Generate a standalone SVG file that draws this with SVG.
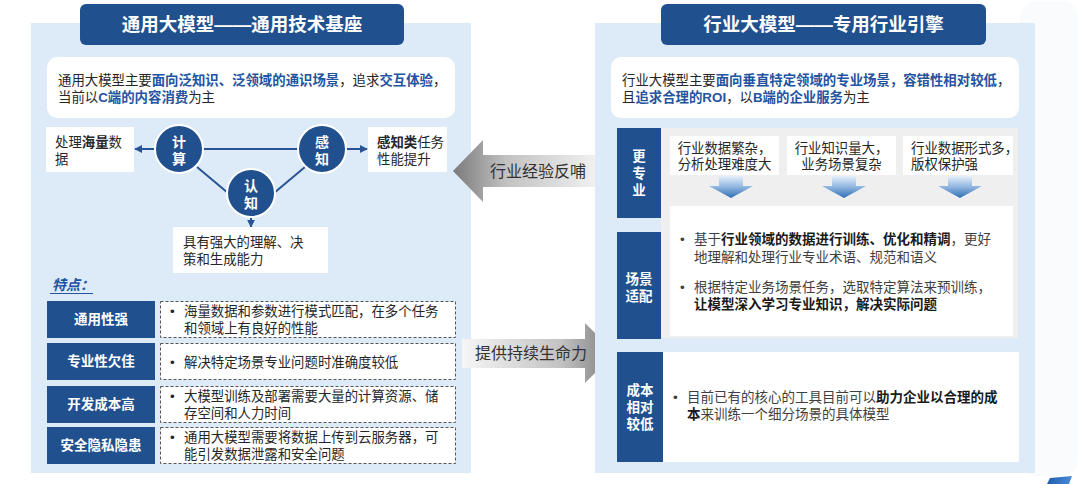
<svg xmlns="http://www.w3.org/2000/svg" width="1080" height="484" viewBox="0 0 1080 484">
<style>
text{font-family:"Liberation Sans","Noto Sans CJK SC",sans-serif;}
.t{font-size:13.4px;fill:#262626;}
.g{font-size:13.5px;fill:#3f3f3f;}
.b{font-weight:bold;}
.hb{font-weight:bold;fill:#2453a0;}
.title{font-size:18.5px;font-weight:bold;fill:#fff;text-anchor:middle;}
.lab{font-size:13.5px;font-weight:bold;fill:#fff;text-anchor:middle;}
.cir{font-size:14px;font-weight:bold;fill:#fff;text-anchor:middle;}
.panel{fill:#ddebf8;}
.navy{fill:#21508f;}
.wbox{fill:#fff;}
.dash{fill:#fff;stroke:#555;stroke-width:1;stroke-dasharray:3 2;}
.conn{stroke:#2a5394;stroke-width:2;fill:none;}
.arr{font-size:16px;fill:#333;text-anchor:middle;}
</style>
<defs>
<marker id="ah" viewBox="0 0 10 10" refX="9" refY="5" markerWidth="4" markerHeight="4" orient="auto" markerUnits="strokeWidth">
<path d="M0,0 L10,5 L0,10 z" fill="#2a5394"/>
</marker>
<linearGradient id="gl" x1="0" y1="0" x2="1" y2="0">
<stop offset="0" stop-color="#7a7a7a"/>
<stop offset="0.35" stop-color="#c2c2c2"/>
<stop offset="1" stop-color="#f6f6f6"/>
</linearGradient>
<linearGradient id="gr" x1="0" y1="0" x2="1" y2="0">
<stop offset="0" stop-color="#f6f6f6"/>
<stop offset="0.65" stop-color="#c2c2c2"/>
<stop offset="1" stop-color="#7a7a7a"/>
</linearGradient>
<linearGradient id="gd" x1="0" y1="0" x2="0" y2="1">
<stop offset="0" stop-color="#e6f0fa"/>
<stop offset="0.5" stop-color="#8fb6e0"/>
<stop offset="1" stop-color="#2f6db3"/>
</linearGradient>
<linearGradient id="gb" x1="0" y1="0" x2="1" y2="0">
<stop offset="0" stop-color="#1f5fb0"/>
<stop offset="1" stop-color="#4a8ad6"/>
</linearGradient>
<path id="dn" d="M-12,0 H12 V10 H22 L0,22 L-22,10 H-12 Z"/>
</defs>

<rect x="0" y="0" width="1080" height="484" fill="#fff"/>
<rect x="1020" y="1" width="58" height="475" rx="16" fill="#fafbfc"/>
<polygon points="1050,478 1072,476 1069,484 1047,484" fill="url(#gb)"/>

<!-- LEFT PANEL -->
<g id="left-panel">
<rect class="panel" x="31" y="23" width="440" height="450"/>
</g>
<g id="left-title">
<rect class="navy" x="80" y="4" width="324" height="41" rx="6"/>
<text class="title" x="242" y="31">通用大模型——通用技术基座</text>
</g>
<g id="left-intro">
<rect class="wbox" x="47" y="57" width="408" height="61" rx="10"/>
<text class="t" x="58" y="85" font-size="13.5">通用大模型主要<tspan class="hb">面向泛知识、泛领域的通识场景</tspan>，追求<tspan class="hb">交互体验</tspan>，</text>
<text class="t" x="58" y="102" font-size="13.5">当前以<tspan class="hb">C端的内容消费</tspan>为主</text>
</g>

<g id="connectors-left">
<line class="conn" x1="203" y1="149" x2="298" y2="149"/>
<line class="conn" x1="197" y1="167" x2="228" y2="193"/>
<line class="conn" x1="305" y1="167" x2="274" y2="193"/>
<line class="conn" x1="155" y1="149" x2="135" y2="149" marker-end="url(#ah)"/>
<line class="conn" x1="346" y1="149" x2="367" y2="149" marker-end="url(#ah)"/>
<line class="conn" x1="251" y1="217" x2="251" y2="227" marker-end="url(#ah)"/>
</g>

<g id="box-data">
<rect class="wbox" x="46" y="127" width="88" height="45"/>
<text class="t" x="55" y="147">处理<tspan class="b">海量</tspan>数</text>
<text class="t" x="55" y="163.5">据</text>
</g>
<g id="box-perception">
<rect class="wbox" x="368" y="127" width="79" height="45"/>
<text class="t" x="377" y="147"><tspan class="b">感知类</tspan>任务</text>
<text class="t" x="377" y="163.5">性能提升</text>
</g>
<g id="box-cognition">
<rect class="wbox" x="173" y="227" width="155" height="46"/>
<text class="t" x="183" y="247">具有强大的理解、决</text>
<text class="t" x="183" y="263.5">策和生成能力</text>
</g>
<g id="circle-compute">
<circle cx="179" cy="149" r="24" fill="#21508f" stroke="#fff" stroke-width="2"/>
<text class="cir" x="179" y="147">计</text>
<text class="cir" x="179" y="164">算</text>
</g>
<g id="circle-perceive">
<circle cx="322" cy="149" r="24" fill="#21508f" stroke="#fff" stroke-width="2"/>
<text class="cir" x="322" y="147">感</text>
<text class="cir" x="322" y="164">知</text>
</g>
<g id="circle-cognize">
<circle cx="251" cy="193" r="24" fill="#21508f" stroke="#fff" stroke-width="2"/>
<text class="cir" x="251" y="191">认</text>
<text class="cir" x="251" y="208">知</text>
</g>

<g id="features-heading">
<text x="52" y="290" font-size="14" font-weight="bold" font-style="italic" fill="#2453a0">特点：</text>
<line x1="50" y1="293.5" x2="93" y2="293.5" stroke="#2453a0" stroke-width="1"/>
</g>
<g id="feature-1">
<rect class="navy" x="47" y="301" width="108" height="37"/>
<text class="lab" x="101" y="324">通用性强</text>
<rect class="dash" x="160.5" y="301.5" width="295" height="36"/>
<text class="t" x="170" y="316">•</text>
<text class="t" x="184" y="316">海量数据和参数进行模式匹配，在多个任务</text>
<text class="t" x="184" y="332.5">和领域上有良好的性能</text>
</g>
<g id="feature-2">
<rect class="navy" x="47" y="343" width="108" height="37"/>
<text class="lab" x="101" y="366">专业性欠佳</text>
<rect class="dash" x="160.5" y="343.5" width="295" height="36"/>
<text class="t" x="170" y="367">•</text>
<text class="t" x="184" y="367">解决特定场景专业问题时准确度较低</text>
</g>
<g id="feature-3">
<rect class="navy" x="47" y="386" width="108" height="37"/>
<text class="lab" x="101" y="409">开发成本高</text>
<rect class="dash" x="160.5" y="386.5" width="295" height="36"/>
<text class="t" x="170" y="401">•</text>
<text class="t" x="184" y="401">大模型训练及部署需要大量的计算资源、储</text>
<text class="t" x="184" y="417.5">存空间和人力时间</text>
</g>
<g id="feature-4">
<rect class="navy" x="47" y="427" width="108" height="37"/>
<text class="lab" x="101" y="450">安全隐私隐患</text>
<rect class="dash" x="160.5" y="427.5" width="295" height="36"/>
<text class="t" x="170" y="442">•</text>
<text class="t" x="184" y="442">通用大模型需要将数据上传到云服务器，可</text>
<text class="t" x="184" y="458.5">能引发数据泄露和安全问题</text>
</g>

<!-- MIDDLE ARROWS -->
<g id="arrow-feedback">
<polygon points="453,171 483,140 483,155 606,155 606,187 483,187 483,202" fill="url(#gl)"/>
<text class="arr" x="538" y="177">行业经验反哺</text>
</g>
<g id="arrow-vitality">
<polygon points="615,353 585,323 585,339 462,339 462,368 585,368 585,383" fill="url(#gr)"/>
<text class="arr" x="531" y="359">提供持续生命力</text>
</g>

<!-- RIGHT PANEL -->
<g id="right-panel">
<rect class="panel" x="595" y="23" width="440" height="450"/>
</g>
<g id="right-title">
<rect class="navy" x="661" y="4" width="325" height="41" rx="6"/>
<text class="title" x="823.5" y="31">行业大模型——专用行业引擎</text>
</g>
<g id="right-intro">
<rect class="wbox" x="611" y="57" width="408" height="61" rx="10"/>
<text class="t" x="622" y="85" font-size="13.5">行业大模型主要<tspan class="hb">面向垂直特定领域的专业场景，容错性相对较低</tspan>，</text>
<text class="t" x="622" y="102" font-size="13.5">且<tspan class="hb">追求合理的ROI</tspan>，以<tspan class="hb">B端的企业服务</tspan>为主</text>
</g>

<g id="right-grey">
<rect x="661" y="128" width="357" height="210" fill="#efefef"/>
</g>
<g id="label-professional">
<rect class="navy" x="617" y="128" width="44" height="90"/>
<text class="lab" x="639" y="161">更</text>
<text class="lab" x="639" y="178">专</text>
<text class="lab" x="639" y="195">业</text>
</g>
<g id="challenge-1">
<rect class="wbox" x="670" y="136" width="109" height="39"/>
<text class="t" x="724.5" y="152.5" text-anchor="middle">行业数据繁杂，</text>
<text class="t" x="724.5" y="169" text-anchor="middle">分析处理难度大</text>
</g>
<g id="challenge-2">
<rect class="wbox" x="787" y="136" width="109" height="39"/>
<text class="t" x="841.5" y="152.5" text-anchor="middle">行业知识量大，</text>
<text class="t" x="841.5" y="169" text-anchor="middle">业务场景复杂</text>
</g>
<g id="challenge-3">
<rect class="wbox" x="903" y="136" width="110" height="39"/>
<text class="t" x="911" y="152.5">行业数据形式多，</text>
<text class="t" x="911" y="169">版权保护强</text>
</g>
<g id="connectors-right">
<use href="#dn" x="731" y="176" fill="url(#gd)"/>
<use href="#dn" x="844" y="176" fill="url(#gd)"/>
<use href="#dn" x="960" y="176" fill="url(#gd)"/>
</g>
<g id="label-scenario">
<rect class="navy" x="617" y="232" width="44" height="107"/>
<text class="lab" x="639" y="284">场景</text>
<text class="lab" x="639" y="301">适配</text>
</g>
<g id="scenario-box">
<rect class="wbox" x="670" y="206" width="343" height="130"/>
<text class="g" x="680" y="244">•</text>
<text class="g" x="694" y="244">基于<tspan class="b" fill="#1a1a1a">行业领域的数据进行训练、优化和精调</tspan>，更好</text>
<text class="g" x="694" y="262">地理解和处理行业专业术语、规范和语义</text>
<text class="g" x="680" y="292">•</text>
<text class="g" x="694" y="292">根据特定业务场景任务，选取特定算法来预训练，</text>
<text class="g" x="694" y="309"><tspan class="b" fill="#1a1a1a">让模型深入学习专业知识，解决实际问题</tspan></text>
</g>
<g id="label-cost">
<rect class="navy" x="617" y="352" width="46" height="110"/>
<text class="lab" x="640" y="395">成本</text>
<text class="lab" x="640" y="412">相对</text>
<text class="lab" x="640" y="429">较低</text>
</g>
<g id="cost-box">
<rect class="wbox" x="663" y="352" width="356" height="110"/>
<text class="g" x="673" y="402">•</text>
<text class="g" x="687" y="402">目前已有的核心的工具目前可以<tspan class="b" fill="#1a1a1a">助力企业以合理的成</tspan></text>
<text class="g" x="687" y="419"><tspan class="b" fill="#1a1a1a">本</tspan>来训练一个细分场景的具体模型</text>
</g>
</svg>
